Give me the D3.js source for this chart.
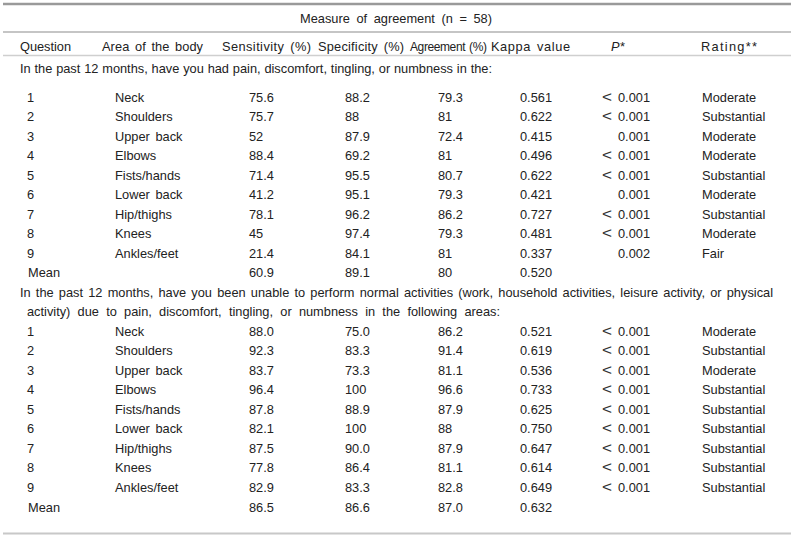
<!DOCTYPE html>
<html>
<head>
<meta charset="utf-8">
<script src="https://cdn.jsdelivr.net/npm/d3@7"></script>
<style>
  html, body { margin: 0; padding: 0; background: #fff; }
  svg text { font-family: "Liberation Sans", Arial, sans-serif; font-size: 12.8px; fill: #222; word-spacing: 2px; }
</style>
</head>
<body>
<svg id="chart" width="791" height="537"></svg>
<script>
// ---------- data ----------
const title = "Measure of agreement (n = 58)";
const headers = ["Question", "Area of the body", "Sensitivity (%)", "Specificity (%)", "Agreement (%)", "Kappa value", "P*", "Rating**"];
const section1Text = ["In the past 12 months, have you had pain, discomfort, tingling, or numbness in the:"];
const section2Text = [
  "In the past 12 months, have you been unable to perform normal activities (work, household activities, leisure activity, or physical",
  "activity) due to pain, discomfort, tingling, or numbness in the following areas:"
];
const questions = ["1", "2", "3", "4", "5", "6", "7", "8", "9", "Mean"];
const areas = ["Neck", "Shoulders", "Upper back", "Elbows", "Fists/hands", "Lower back", "Hip/thighs", "Knees", "Ankles/feet", ""];

const sens1  = ["75.6", "75.7", "52", "88.4", "71.4", "41.2", "78.1", "45", "21.4", "60.9"];
const spec1  = ["88.2", "88", "87.9", "69.2", "95.5", "95.1", "96.2", "97.4", "84.1", "89.1"];
const agree1 = ["79.3", "81", "72.4", "81", "80.7", "79.3", "86.2", "79.3", "81", "80"];
const kappa1 = ["0.561", "0.622", "0.415", "0.496", "0.622", "0.421", "0.727", "0.481", "0.337", "0.520"];
const p1     = ["< 0.001", "< 0.001", "0.001", "< 0.001", "< 0.001", "0.001", "< 0.001", "< 0.001", "0.002", ""];
const rating1 = ["Moderate", "Substantial", "Moderate", "Moderate", "Substantial", "Moderate", "Substantial", "Moderate", "Fair", ""];

const sens2  = ["88.0", "92.3", "83.7", "96.4", "87.8", "82.1", "87.5", "77.8", "82.9", "86.5"];
const spec2  = ["75.0", "83.3", "73.3", "100", "88.9", "100", "90.0", "86.4", "83.3", "86.6"];
const agree2 = ["86.2", "91.4", "81.1", "96.6", "87.9", "88", "87.9", "81.1", "82.8", "87.0"];
const kappa2 = ["0.521", "0.619", "0.536", "0.733", "0.625", "0.750", "0.647", "0.614", "0.649", "0.632"];
const p2     = ["< 0.001", "< 0.001", "< 0.001", "< 0.001", "< 0.001", "< 0.001", "< 0.001", "< 0.001", "< 0.001", ""];
const rating2 = ["Moderate", "Substantial", "Moderate", "Substantial", "Substantial", "Substantial", "Substantial", "Substantial", "Substantial", ""];

// ---------- layout ----------
const svg = d3.select("#chart");
const fs = 12.8;
const base = c => c + fs * 0.36;

// column x positions (left edges of text)
const colKeys = ["q", "area", "sens", "spec", "agree", "kappa", "p", "rating"];
const headerX = d3.scaleOrdinal().domain(colKeys).range([20, 102, 222, 318, 410, 491, 611, 701]);
const headerW = d3.scaleOrdinal().domain(colKeys).range([51, 101, 89, 86, 0, 79, 0, 56]);
const valueX  = d3.scaleOrdinal().domain(colKeys).range([27, 115, 249, 345, 438, 520, 618, 702]);
const ltX = 602;

function fitText(sel, x0, x1) {
  sel.each(function () {
    const natural = this.getComputedTextLength();
    const txt = this.textContent;
    const spaces = (txt.match(/ /g) || []).length;
    if (spaces > 0) {
      const cur = parseFloat(getComputedStyle(this).wordSpacing) || 0;
      const ws = cur + ((x1 - x0) - natural) / spaces;
      d3.select(this).style("word-spacing", ws + "px");
    }
  });
}

// rules
const rules = [
  { y: 4, w: 2.5, c: "#9a9a9a" },
  { y: 32, w: 1.2, c: "#8c8c8c" },
  { y: 55.5, w: 1.5, c: "#cfcfcf" },
  { y: 533.5, w: 2.2, c: "#c8c8c8" }
];
svg.selectAll("line.rule").data(rules).join("line")
  .attr("class", "rule")
  .attr("x1", 3).attr("x2", 791)
  .attr("y1", d => d.y).attr("y2", d => d.y)
  .attr("stroke", d => d.c).attr("stroke-width", d => d.w);

// title
svg.append("text").attr("x", 300).attr("y", base(18)).text(title).call(fitText, 300, 492);

// headers
const hdr = svg.selectAll("text.hdr").data(headers).join("text")
  .attr("class", "hdr")
  .attr("x", (d, i) => headerX(colKeys[i]))
  .attr("y", base(46))
  .style("font-style", (d, i) => colKeys[i] === "p" ? "italic" : null)
  .text(d => d);
hdr.filter(d => headerW(colKeys[headers.indexOf(d)]) > 0)
  .attr("textLength", d => headerW(colKeys[headers.indexOf(d)]))
  .attr("lengthAdjust", "spacing");
hdr.filter(d => d === "Agreement (%)")
  .style("font-size", "12px")
  .style("letter-spacing", "-0.4px")
  .style("word-spacing", "1px");

// section statements
svg.append("text").attr("x", 20).attr("y", base(68.5)).text(section1Text[0]).call(fitText, 20, 492);
svg.append("text").attr("x", 20).attr("y", base(292.5)).text(section2Text[0]).call(fitText, 20, 773);
svg.append("text").attr("x", 27).attr("y", base(311.5)).text(section2Text[1]).call(fitText, 27, 500);

function drawSection(yTop, yBottom, cols) {
  const y = d3.scalePoint().domain(d3.range(questions.length)).range([yTop, yBottom]);
  const g = svg.append("g");
  const rows = g.selectAll("g.row").data(d3.range(questions.length)).join("g").attr("class", "row");
  colKeys.forEach(k => {
    rows.append("text")
      .attr("x", i => (k === "q" && questions[i] === "Mean") ? 28 : valueX(k))
      .attr("y", i => base(y(i)))
      .text(i => {
        const v = cols[k][i];
        return k === "p" ? v.replace("< ", "") : v;
      });
  });
  rows.filter(i => cols.p[i].startsWith("<"))
    .append("text")
    .attr("x", ltX)
    .attr("y", i => base(y(i)))
    .attr("textLength", 10)
    .attr("lengthAdjust", "spacingAndGlyphs")
    .style("font-size", "14px")
    .style("fill", "#333")
    .text("<");
}

drawSection(97, 272.5, { q: questions, area: areas, sens: sens1, spec: spec1, agree: agree1, kappa: kappa1, p: p1, rating: rating1 });
drawSection(331, 507, { q: questions, area: areas, sens: sens2, spec: spec2, agree: agree2, kappa: kappa2, p: p2, rating: rating2 });
</script>
</body>
</html>
